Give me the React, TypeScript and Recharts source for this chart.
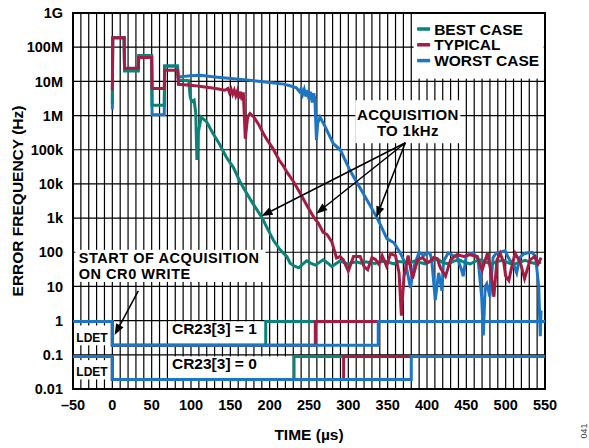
import { LineChart, Line, XAxis, YAxis, CartesianGrid, ReferenceArea, ReferenceLine } from "recharts"

const FONT = '"Liberation Sans", Arial, Helvetica, sans-serif'

const TEAL = "#0a8478"
const MAROON = "#a51c43"
const BLUE = "#1c76c4"

// time (µs), error frequency (Hz)
const bestCase: [number, number][] = [
  [0, 2.2e6], [0.5, 1.9e8], [15, 1.9e8], [15.5, 2.0e7], [33, 2.0e7], [33.5, 5.7e7], [50, 5.7e7],
  [50.5, 2.0e6], [66, 2.0e6], [66.5, 2.8e7], [83, 2.8e7], [84, 1.1e7], [97, 1.05e7], [99, 3.5e6],
  [101, 2.5e6], [104, 2.8e6], [106, 1.2e6], [107.5, 5e4], [109, 3e5], [113, 9e5], [120, 6.5e5],
  [128, 3e5], [136, 1.5e5], [145, 6e4], [154, 3e4], [162, 1.2e4], [171, 5.2e3], [180, 2.4e3],
  [190, 1.05e3], [198, 450], [205, 220], [213, 120], [222, 74], [226, 48], [231, 40], [237, 35],
  [242, 45], [247, 56], [252, 48], [258, 42], [263, 50], [268, 60], [274, 48], [279, 38], [284, 46],
  [289, 55], [295, 50], [300, 45], [305, 50], [311, 52], [316, 48], [321, 53], [327, 50], [334, 47],
  [340, 52], [346, 55], [352, 50], [358, 46], [364, 54], [370, 52], [377, 47], [384, 55], [391, 50],
  [398, 46], [405, 55], [413, 64], [420, 50], [427, 46], [434, 55], [441, 60], [448, 50], [455, 46],
  [462, 55], [469, 60], [476, 50], [483, 46], [490, 55], [497, 58], [504, 48], [511, 45], [518, 52],
  [525, 58], [532, 50], [539, 46], [545, 52],
]

const typical: [number, number][] = [
  [0, 5.5e6], [0.5, 1.9e8], [15, 1.9e8], [15.5, 2.4e7], [33, 2.4e7], [33.5, 5.0e7], [50, 5.0e7],
  [50.5, 6.2e6], [66, 6.2e6], [66.5, 2.1e7], [83, 2.1e7], [84, 8.2e6], [95, 7.8e6], [105, 7.5e6],
  [115, 7e6], [125, 6.5e6], [135, 6e6], [143, 5.5e6], [147, 6.2e6], [149, 4.6e6], [151, 5.8e6],
  [153, 4.2e6], [155, 5.5e6], [157, 3.8e6], [159, 5.2e6], [161, 3.2e6], [163, 5e6], [165, 2.8e6],
  [166.5, 4.8e6], [169, 2.1e5], [172, 9e5], [175, 1.15e6], [180, 9e5], [186, 5.5e5], [192, 3e5],
  [197, 1.9e5], [204, 1.1e5], [212, 5e4], [218, 3.2e4], [222, 2.2e4], [230, 1.2e4], [239, 5.2e3],
  [248, 2.2e3], [256, 1.07e3], [262, 700], [268, 380], [273, 330], [279, 200], [285, 68],
  [289.5, 75], [293.7, 60], [300, 28], [306.5, 75], [315, 75], [320, 38], [324.6, 31], [330, 70],
  [334.5, 62], [338.8, 45], [343, 80], [348.5, 40], [353.6, 90], [360, 80], [364.5, 25], [367.4, 1.4],
  [370.8, 20], [376, 80], [381.6, 17], [388, 60], [394.3, 70], [400, 50], [404, 55], [408.6, 70],
  [413, 65], [417, 35], [423.5, 20], [430, 60], [438, 85], [447, 75], [455, 85], [464, 75], [470, 30],
  [476.8, 93], [481, 30], [485, 5], [489, 60], [493, 93], [497.6, 50], [500, 20], [504, 15], [508, 40],
  [512, 93], [518.7, 50], [524, 17], [531, 60], [537, 75], [541, 45], [545, 70],
]

const worstCase: [number, number][] = [
  [0, 1.5e6], [0.5, 1.9e8], [15, 1.9e8], [15.5, 2.2e7], [33, 2.2e7], [33.5, 5.3e7], [50, 5.3e7],
  [50.5, 1.05e6], [66, 1.05e6], [66.5, 2.8e7], [82.5, 2.8e7], [83.5, 1.35e7], [100, 1.45e7],
  [112, 1.5e7], [130, 1.35e7], [154, 1.2e7], [180, 1.05e7], [200, 9.2e6], [218, 8.3e6], [228, 7.2e6],
  [234, 6.5e6], [238, 5e6], [240, 6.2e6], [242, 4.2e6], [244, 5.8e6], [246, 3.6e6], [248, 5.5e6],
  [250, 3e6], [252, 5e6], [254, 2.4e6], [256, 4.5e6], [257.5, 3e6], [259.5, 1.9e5], [261, 6e5],
  [264, 9e5], [270, 5e5], [281, 1.5e5], [290, 9.8e4], [302, 2.5e4], [319, 5.2e3], [336, 1.07e3],
  [341, 620], [349, 250], [358, 190], [366, 95], [373, 45], [379, 9], [383.5, 40], [390, 100],
  [396, 80], [400, 100], [404, 90], [406, 60], [410.5, 4], [414.8, 25], [419, 7.5], [421, 55],
  [427, 95], [433, 80], [438, 75], [444, 30], [446, 20], [450, 80], [455, 90], [459, 95], [465, 60],
  [469.5, 5], [471.6, 0.37], [474, 10], [476, 12], [480, 5], [484, 70], [488, 95], [492.5, 100],
  [499, 110], [505, 60], [510, 45], [514, 25], [518, 70], [523, 90], [527, 95], [533.5, 100],
  [538, 75], [542, 10], [544, 0.35], [545, 2],
]

// LDET traces: [high, low] levels and the time each case goes high
const ldetLevelsCr1 = [0.95, 0.19]
const ldetLevelsCr0 = [0.09, 0.019]
const ldetRiseCr1 = [195, 258, 338] // best, typical, worst
const ldetRiseCr0 = [231, 294, 380]

const yTicks = [0.01, 0.1, 1, 10, 100, 1e3, 1e4, 1e5, 1e6, 1e7, 1e8, 1e9]
const yTickLabels = ["0.01", "0.1", "1", "10", "100", "1k", "10k", "100k", "1M", "10M", "100M", "1G"]
const xLabelTicks = [-50, 0, 50, 100, 150, 200, 250, 300, 350, 400, 450, 500, 550]
const xTickLabels = ["–50", "0", "50", "100", "150", "200", "250", "300", "350", "400", "450", "500", "550"]

const xGridTicks: number[] = []
for (let t = -50; t <= 550; t += 10) xGridTicks.push(t)

const legendLabels = ["BEST CASE", "TYPICAL", "WORST CASE"]
const legendColors = [TEAL, MAROON, BLUE]

const acqArrowTail = { x: 372.5, y: 1.6e5 }
const acqArrowTips = [
  { x: 189.7, y: 1.15e3 },
  { x: 259.3, y: 1.35e3 },
  { x: 335.6, y: 1.05e3 },
]
const startArrow = [{ x: 33, y: 7.4 }, { x: 2.9, y: 0.38 }]

const toPoints = (pairs: [number, number][]) => pairs.map(([x, y]) => ({ x, y }))
const stepTrace = (levels: number[], rise: number) => [
  { x: -50, y: levels[0] },
  { x: 0, y: levels[1] },
  { x: rise, y: levels[0] },
  { x: 550, y: levels[0] },
]

const textStyle = { fontFamily: FONT, fontWeight: 700, fill: "#000" }

function arrowShape(props: any) {
  const { x1, y1, x2, y2 } = props
  const ang = Math.atan2(y2 - y1, x2 - x1)
  const len = 11
  const half = 4.2
  const bx = x2 - len * Math.cos(ang)
  const by = y2 - len * Math.sin(ang)
  const px = -Math.sin(ang) * half
  const py = Math.cos(ang) * half
  return (
    <g>
      <line x1={x1} y1={y1} x2={bx} y2={by} stroke="#000" strokeWidth={1.5} />
      <polygon points={`${x2},${y2} ${bx + px},${by + py} ${bx - px},${by - py}`} fill="#000" />
    </g>
  )
}

function textBox(
  lines: string[],
  size: number,
  dx: number,
  baselines: number[],
  anchor: "start" | "middle",
  fromBottom = false,
  spacing = 0,
) {
  return (props: any) => {
    const { x, y, width, height } = props
    return (
      <g>
        <rect x={x} y={y} width={width} height={height} fill="#fff" />
        {lines.map((s, i) => (
          <text
            key={s}
            x={anchor === "middle" ? x + width / 2 : x + dx}
            y={fromBottom ? y + height - baselines[i] : y + baselines[i]}
            textAnchor={anchor}
            fontSize={size}
            letterSpacing={spacing}
            {...textStyle}
          >
            {s}
          </text>
        ))}
      </g>
    )
  }
}

function legendBox(props: any) {
  const { x, y, width, height } = props
  return (
    <g>
      <rect x={x} y={y} width={width} height={height} fill="#fff" />
      {legendLabels.map((s, i) => (
        <g key={s}>
          <line x1={x + 3.5} x2={x + 16.5} y1={y + 16 + i * 15.8} y2={y + 16 + i * 15.8} stroke={legendColors[i]} strokeWidth={3.5} />
          <text x={x + 20.5} y={y + 21.5 + i * 15.8} fontSize={15.5} {...textStyle}>
            {s}
          </text>
        </g>
      ))}
    </g>
  )
}

function frameShape(props: any) {
  const { x, y, width, height } = props
  return <rect x={x} y={y} width={width} height={height} fill="none" stroke="#000" strokeWidth={2} />
}

function xTitle(props: any) {
  const vb = props.viewBox || props
  return (
    <g>
      <text x={vb.x + vb.width / 2} y={vb.y + 51} textAnchor="middle" fontSize={15.5} {...textStyle}>
        TIME (µs)
      </text>
      <text
        x={vb.x + vb.width + 42}
        y={vb.y + 42}
        transform={`rotate(-90 ${vb.x + vb.width + 42} ${vb.y + 42})`}
        textAnchor="middle"
        fontSize={9}
        fontFamily={FONT}
        fill="#444"
      >
        041
      </text>
    </g>
  )
}

function yTitle(props: any) {
  const vb = props.viewBox || props
  const cx = vb.x + 10.3
  const cy = vb.y + vb.height / 2
  return (
    <text x={cx} y={cy} transform={`rotate(-90 ${cx} ${cy})`} textAnchor="middle" fontSize={15.5} {...textStyle}>
      ERROR FREQUENCY (Hz)
    </text>
  )
}

export default function App() {
  const tickStyle = { fontSize: 14.5, fontWeight: 700, fontFamily: FONT, fill: "#000" }
  return (
    <div style={{ position: "absolute", left: 0, top: 0, width: 589, height: 448, background: "#fff" }}>
      <LineChart width={589} height={448} margin={{ top: 13, right: 44, bottom: 29, left: 13 }}>
        <CartesianGrid stroke="#000" strokeWidth={1.2} />
        <XAxis
          type="number"
          dataKey="x"
          domain={[-50, 550]}
          ticks={xGridTicks}
          interval={0}
          allowDataOverflow
          tickFormatter={(v: number) => {
            const i = xLabelTicks.indexOf(v)
            return i >= 0 ? xTickLabels[i] : ""
          }}
          tickLine={false}
          axisLine={false}
          tickMargin={5}
          height={30}
          tick={tickStyle}
          label={xTitle}
        />
        <YAxis
          type="number"
          dataKey="y"
          scale="log"
          domain={[0.01, 1e9]}
          ticks={yTicks}
          interval={0}
          allowDataOverflow
          tickFormatter={(v: number) => yTickLabels[yTicks.indexOf(v)] ?? ""}
          tickLine={false}
          axisLine={false}
          tickMargin={4}
          width={60}
          tick={tickStyle}
          label={yTitle}
        />

        <ReferenceArea x1={383} x2={548.3} y1={1.2e7} y2={1e9} shape={legendBox} />
        <ReferenceArea
          x1={308.9}
          x2={442.4}
          y1={1.55e5}
          y2={2.8e6}
          shape={textBox(["ACQUISITION", "TO 1kHz"], 15, [0][0], [19.5, 35.8], "middle", false, 0.3)}
        />
        <ReferenceArea
          x1={-47}
          x2={194.6}
          y1={13.6}
          y2={118}
          shape={textBox(["START OF ACQUISITION", "ON CR0 WRITE"], 14.5, 3.3, [13.3, 29.5], "start", false, 0.55)}
        />
        <ReferenceArea x1={71.5} x2={192} y1={0.19} y2={0.95} shape={textBox(["CR23[3] = 1"], 15.5, 3.4, [12.8], "start")} />
        <ReferenceArea x1={71.5} x2={226} y1={0.019} y2={0.09} shape={textBox(["CR23[3] = 0"], 15.5, 3.4, [12.4], "start")} />
        <ReferenceArea x1={-50} x2={-2.6} y1={0.19} y2={0.72} shape={textBox(["LDET"], 12, 3.3, [3], "start", true)} />
        <ReferenceArea x1={-50} x2={-2.6} y1={0.019} y2={0.07} shape={textBox(["LDET"], 12, 3.3, [3.5], "start", true)} />

        {ldetRiseCr1.map((r, i) => (
          <Line
            key={`cr1-${i}`}
            data={stepTrace(ldetLevelsCr1, r)}
            dataKey="y"
            type="stepAfter"
            stroke={legendColors[i]}
            strokeWidth={3}
            dot={false}
            activeDot={false}
            isAnimationActive={false}
          />
        ))}
        {ldetRiseCr0.map((r, i) => (
          <Line
            key={`cr0-${i}`}
            data={stepTrace(ldetLevelsCr0, r)}
            dataKey="y"
            type="stepAfter"
            stroke={legendColors[i]}
            strokeWidth={3}
            dot={false}
            activeDot={false}
            isAnimationActive={false}
          />
        ))}

        <Line data={toPoints(worstCase)} dataKey="y" type="linear" stroke={BLUE} strokeWidth={3} dot={false} activeDot={false} isAnimationActive={false} />
        <Line data={toPoints(bestCase)} dataKey="y" type="linear" stroke={TEAL} strokeWidth={3} dot={false} activeDot={false} isAnimationActive={false} />
        <Line data={toPoints(typical)} dataKey="y" type="linear" stroke={MAROON} strokeWidth={3} dot={false} activeDot={false} isAnimationActive={false} />

        {acqArrowTips.map((tip, i) => (
          <ReferenceLine key={`acq-${i}`} segment={[acqArrowTail, tip]} shape={arrowShape} />
        ))}
        <ReferenceLine segment={startArrow} shape={arrowShape} />

        <ReferenceArea x1={-50} x2={550} y1={0.01} y2={1e9} shape={frameShape} />
      </LineChart>
    </div>
  )
}
